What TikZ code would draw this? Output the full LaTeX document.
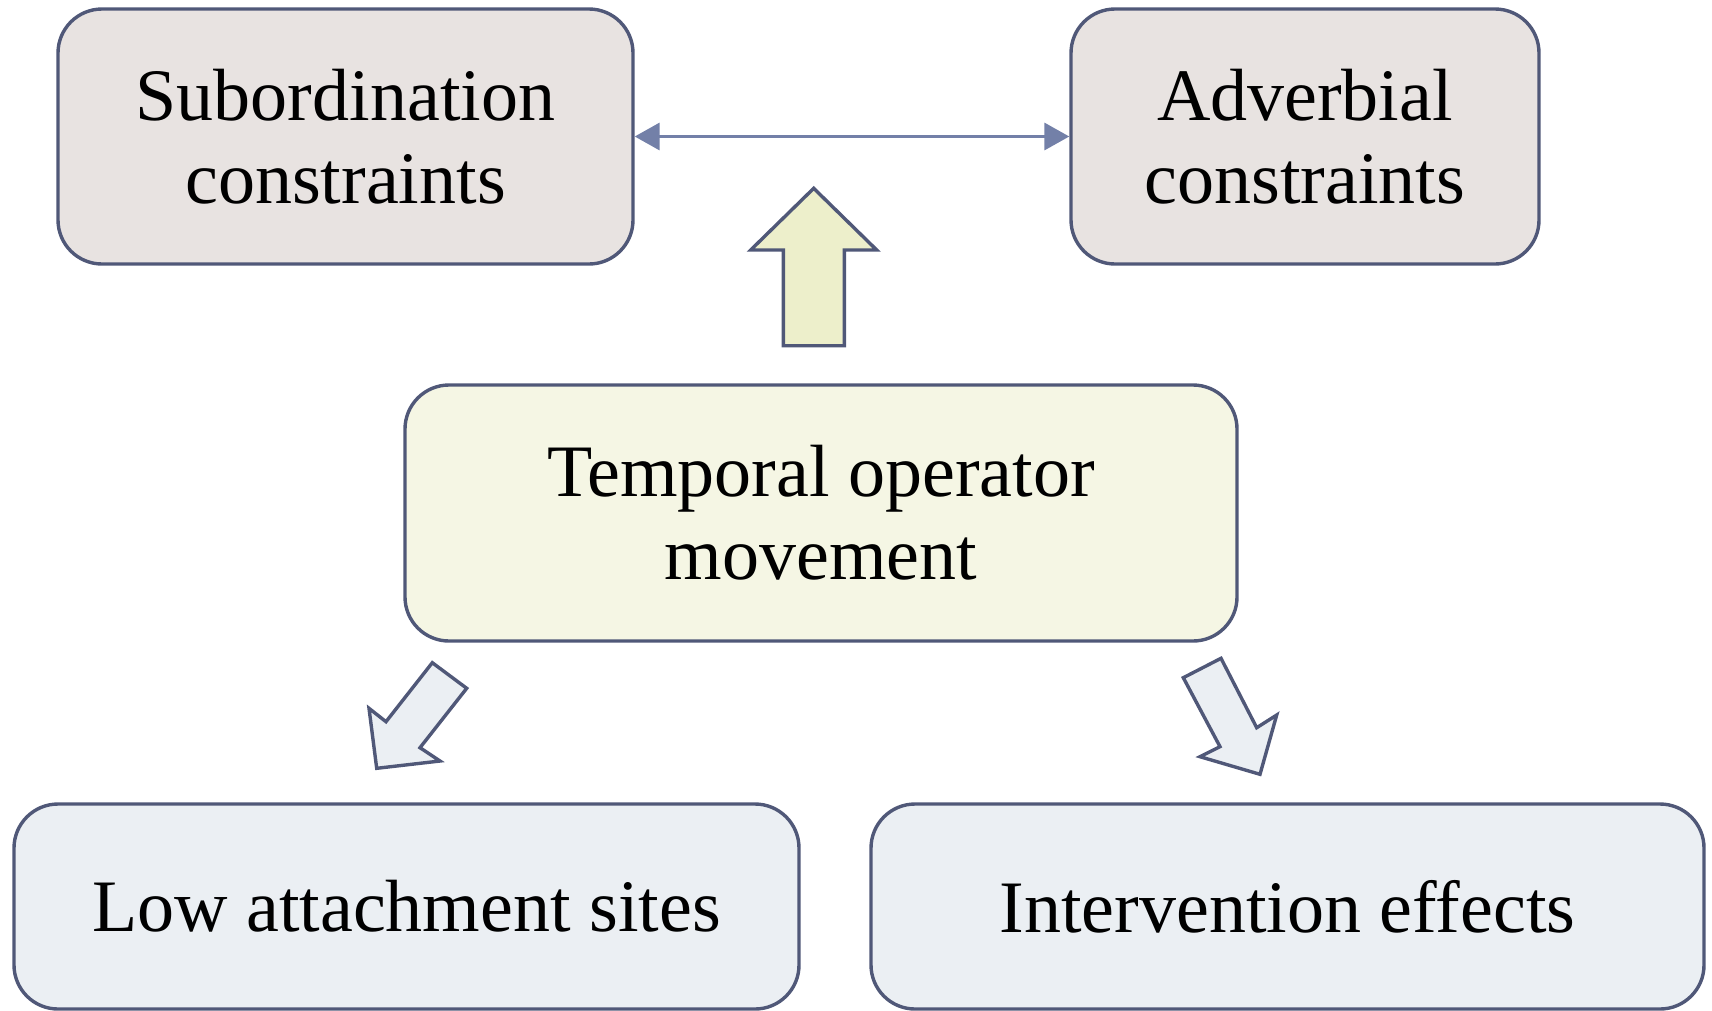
\documentclass[tikz,border=0pt]{standalone}
\usepackage{fontspec}
\setmainfont{Liberation Serif}
\usetikzlibrary{arrows.meta}
\definecolor{edge}{RGB}{80,88,120}
\definecolor{link}{RGB}{115,128,168}
\definecolor{topfill}{RGB}{232,227,225}
\definecolor{midfill}{RGB}{245,246,228}
\definecolor{lowfill}{RGB}{235,239,243}
\definecolor{upfill}{RGB}{237,239,203}
\begin{document}
\begin{tikzpicture}[x=1pt,y=-1pt,
  box/.style={draw=edge, line width=3.4pt, rounded corners=44pt,
    align=center, inner sep=0pt,
    font=\fontsize{74}{83}\selectfont},
  topbox/.style={box, fill=topfill, minimum height=255pt},
  midbox/.style={box, fill=midfill, minimum height=256pt},
  lowbox/.style={box, fill=lowfill, minimum height=205pt},
  link/.style={draw=link, line width=3.5pt,
    {Triangle[length=25pt,width=27pt]}-{Triangle[length=25pt,width=27pt]}},
  blockarrow/.style={draw=edge, line width=3.4pt, line join=miter}
]
\useasboundingbox (0,0) rectangle (1712,1010);

% upper row
\node[topbox, minimum width=575pt] (sub) at (345.5,136.5) {Subordination\\constraints};
\node[topbox, minimum width=468pt] (adv) at (1305,136.5) {Adverbial\\constraints};
\draw[link] (sub) -- (adv);

% central node
\node[midbox, minimum width=832pt] (tom) at (821,513) {Temporal operator\\movement};

% lower row
\node[lowbox, minimum width=785pt] (low) at (406.5,906.5) {Low attachment sites};
\node[lowbox, minimum width=833pt] (int) at (1287.5,906.5) {Intervention effects};

% block arrow pointing up, from the central node towards the upper row
\draw[blockarrow, fill=upfill]
  (813.7,188.3) -- (876.7,250) -- (844.3,250) -- (844.3,345.7)
  -- (783.3,345.7) -- (783.3,250) -- (750.7,250) -- cycle;

% block arrow pointing down-left
\draw[blockarrow, fill=lowfill]
  (432.3,662.7) -- (466.7,688.3) -- (420,747.7) -- (440,761)
  -- (376.7,768.3) -- (369,708.3) -- (386,721.7) -- cycle;

% block arrow pointing down-right
\draw[blockarrow, fill=lowfill]
  (1221,658.3) -- (1183.3,677.7) -- (1220,746.7) -- (1200,756.7)
  -- (1260,774.3) -- (1276.7,715) -- (1256.7,727.7) -- cycle;
\end{tikzpicture}
\end{document}
